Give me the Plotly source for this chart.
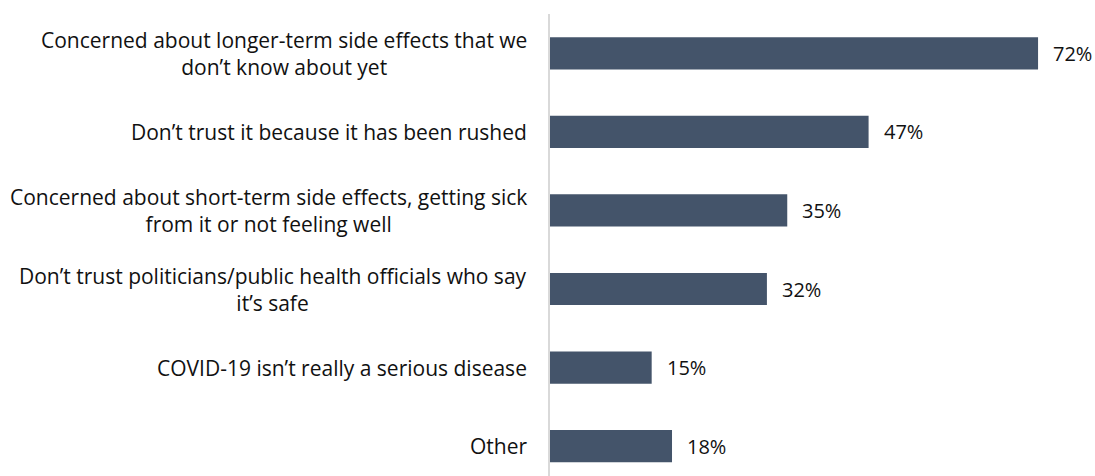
import plotly.graph_objects as go

# Reasons given, top to bottom
reasons = [
    "Concerned about longer-term side effects that we<br>don’t know about yet",
    "Don’t trust it because it has been rushed",
    "Concerned about short-term side effects, getting sick<br>from it or not feeling well",
    "Don’t trust politicians/public health officials who say<br>it’s safe",
    "COVID-19 isn’t really a serious disease",
    "Other",
]
shares = [72, 47, 35, 32, 15, 18]

BAR_COLOR = "#44546A"
TEXT_COLOR = "#111111"
FONT = "Open Sans"
FONT_SIZE = 21

positions = list(range(len(reasons)))

fig = go.Figure(
    go.Bar(
        x=shares,
        y=positions,
        orientation="h",
        width=0.41,
        marker=dict(color=BAR_COLOR, line=dict(width=0)),
        hoverinfo="skip",
    )
)

annotations = []
for pos, label, val in zip(positions, reasons, shares):
    # category label, lines centred within a right-aligned block
    annotations.append(dict(
        x=0, y=pos, xref="paper", yref="y",
        text=label, showarrow=False,
        xanchor="right", yanchor="middle", align="center",
        xshift=-21,
        font=dict(family=FONT, size=FONT_SIZE, color=TEXT_COLOR),
    ))
    # value label just past the bar end
    annotations.append(dict(
        x=val, y=pos, xref="x", yref="y",
        text=f"{val}%", showarrow=False,
        xanchor="left", yanchor="middle",
        xshift=13,
        font=dict(family=FONT, size=FONT_SIZE - 1, color=TEXT_COLOR),
    ))

fig.update_layout(
    width=1095,
    height=476,
    margin=dict(l=550, r=0, t=14, b=0, pad=0),
    paper_bgcolor="white",
    plot_bgcolor="white",
    showlegend=False,
    annotations=annotations,
    xaxis=dict(
        range=[0, 80.4],
        visible=False,
        showgrid=False,
        zeroline=False,
    ),
    yaxis=dict(
        range=[5.38, -0.5],
        showticklabels=False,
        showgrid=False,
        zeroline=False,
        showline=True,
        linecolor="#D9D9D9",
        linewidth=1.5,
        ticks="",
    ),
)

fig.write_html("out.html")
